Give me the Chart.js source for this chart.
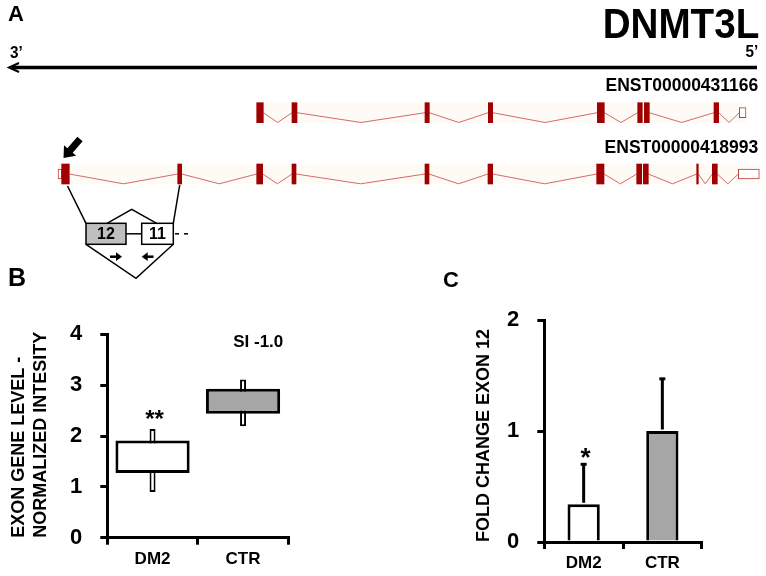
<!DOCTYPE html>
<html>
<head>
<meta charset="utf-8">
<script src="https://cdn.jsdelivr.net/npm/chart.js@4.4.1/dist/chart.umd.min.js"></script>
<style>
body{margin:0;background:#fff}
#fig{position:relative;width:766px;height:576px;overflow:hidden;background:#fff;font-family:'Liberation Sans',Arial,sans-serif;font-weight:bold;color:#000}
#fig canvas{position:absolute}
.lbl{position:absolute;line-height:1;white-space:nowrap}
</style>
</head>
<body>
<div id="fig">
<canvas id="geneChart" width="766" height="290" style="left:0;top:0"></canvas>
<canvas id="arrayChart" width="310" height="286" style="left:0;top:290px"></canvas>
<canvas id="qpcrChart" width="366" height="306" style="left:400px;top:270px"></canvas>
<div class="lbl" style="left:8px;top:3px;font-size:22px">A</div>
<div class="lbl" style="right:7px;top:3px;font-size:42px;transform:scaleX(0.92);transform-origin:right center">DNMT3L</div>
<div class="lbl" style="left:10px;top:44px;font-size:17px;transform:scaleX(0.9);transform-origin:left center">3’</div>
<div class="lbl" style="right:8px;top:43px;font-size:17px;transform:scaleX(0.9);transform-origin:right center">5’</div>
<div class="lbl" style="left:8px;top:265px;font-size:25px">B</div>
<div class="lbl" style="left:443px;top:269px;font-size:22px">C</div>
</div>
<script>
// transcripts of the locus, 3' end on the left (positions in locus units)
const transcriptIds = ['ENST00000431166', 'ENST00000418993'];
const transcriptRow = [1, 2];
const codingExons = [
  [[256.7,263.3],[292,297],[425,429.3],[488.3,492.7],[597.3,604.3],[637.7,642.3],[644.3,649.3],[714,718.7]],
  [[61.7,69.3],[177.7,181.7],[256.7,262.7],[292,296],[425,429],[488,492.7],[596.7,604],[636.7,641.7],[643.3,648.3],[696.7,698.3],[712.3,717.3]]
];
const utrExons = [
  [[739.3,746]],
  [[58,61.7],[738.3,759.3]]
];

// panel B: exon array level
const arrayGroups = ['DM2', 'CTR'];
const boxLow = [1.27, 2.44];
const boxHigh = [1.91, 2.93];
const whiskerLow = [0.90, 2.19];
const whiskerHigh = [2.14, 3.11];
const arrayMarks = ['**', ''];
const spliceIndex = 'SI -1.0';

// panel C: qPCR exon 12
const qpcrGroups = ['DM2', 'CTR'];
const foldMean = [0.34, 1.00];
const foldErr = [0.36, 0.47];
const qpcrMarks = ['*', ''];

const FONT = "'Liberation Sans', Arial, sans-serif";
const groupFill = ['#ffffff', '#a6a6a6'];
Chart.defaults.font.family = FONT;
Chart.defaults.color = '#000';

// ---------- panel A ----------
const rowDip = 0.16;
function blocksOf(i){
  return codingExons[i].concat(utrExons[i]).sort((a, b) => a[0] - b[0]);
}
function intronPoints(i){
  const row = transcriptRow[i], b = blocksOf(i), pts = [];
  for (let k = 1; k < b.length; k++) {
    const s = b[k-1][1], e = b[k][0];
    if (e - s < 3) continue;
    pts.push({x:s, y:row}, {x:(s+e)/2, y:row+rowDip}, {x:e, y:row}, {x:e, y:null});
  }
  return pts;
}
const geneSets = [];
transcriptIds.forEach((id, i) => {
  const row = transcriptRow[i], b = blocksOf(i);
  geneSets.push({type:'bar', indexAxis:'y', data:[{x:[b[0][0], b[b.length-1][1]], y:row}],
    backgroundColor:'#fefaf5', borderWidth:0, grouped:false, maxBarThickness:20,
    categoryPercentage:1, barPercentage:1, order:4});
  geneSets.push({type:'line', indexAxis:'x', data:intronPoints(i), borderColor:'#d46b6b', borderWidth:1,
    pointRadius:0, tension:0, spanGaps:false, order:3});
  geneSets.push({type:'bar', indexAxis:'y', data:utrExons[i].map(u => ({x:u, y:row})),
    backgroundColor:'#fff', borderColor:'#c23b3b', borderWidth:1, borderSkipped:false,
    grouped:false, maxBarThickness:10, categoryPercentage:1, barPercentage:1, order:2});
  geneSets.push({type:'bar', indexAxis:'y', data:codingExons[i].map(c => ({x:c, y:row})),
    backgroundColor:'#a00000', borderWidth:0, grouped:false, maxBarThickness:20,
    categoryPercentage:1, barPercentage:1, order:1});
});

function line(ctx, pts){
  ctx.beginPath();
  ctx.moveTo(pts[0][0], pts[0][1]);
  for (let i = 1; i < pts.length; i++) ctx.lineTo(pts[i][0], pts[i][1]);
  ctx.stroke();
}
function poly(ctx, pts){
  ctx.beginPath();
  ctx.moveTo(pts[0][0], pts[0][1]);
  for (let i = 1; i < pts.length; i++) ctx.lineTo(pts[i][0], pts[i][1]);
  ctx.closePath();
  ctx.fill();
}

const geneNotes = {
  id:'geneNotes',
  afterDatasetsDraw(chart){
    const {ctx, scales:{x, y}} = chart;
    ctx.save();
    // transcript names
    ctx.fillStyle = '#000';
    ctx.font = 'bold 17.5px ' + FONT;
    ctx.textAlign = 'right';
    ctx.textBaseline = 'alphabetic';
    transcriptIds.forEach((id, i) => ctx.fillText(id, 758.3, y.getPixelForValue(transcriptRow[i]) - 21.5));

    // strand arrow 5' -> 3'
    ctx.strokeStyle = '#000';
    ctx.lineWidth = 3.5;
    line(ctx, [[12,67.5],[757,67.5]]);
    ctx.lineWidth = 2;
    line(ctx, [[19,63],[9,67.5],[19,72]]);

    // arrow on exon 12
    const tip = [63.5,158], tail = [80,139];
    const dx = tip[0]-tail[0], dy = tip[1]-tail[1], len = Math.hypot(dx, dy);
    const d = [dx/len, dy/len], n = [-d[1], d[0]];
    const h = [tip[0]-d[0]*10, tip[1]-d[1]*10];
    poly(ctx, [tip, [h[0]+n[0]*8, h[1]+n[1]*8], [h[0]+n[0]*3.5, h[1]+n[1]*3.5],
      [tail[0]+n[0]*3.5, tail[1]+n[1]*3.5], [tail[0]-n[0]*3.5, tail[1]-n[1]*3.5],
      [h[0]-n[0]*3.5, h[1]-n[1]*3.5], [h[0]-n[0]*8, h[1]-n[1]*8]]);

    // inset: exons 12 and 11 with primers
    const rowPx = y.getPixelForValue(transcriptRow[1]);
    const e12 = codingExons[1][0], e11 = codingExons[1][1];
    const x12 = x.getPixelForValue((e12[0]+e12[1])/2), x11 = x.getPixelForValue((e11[0]+e11[1])/2);
    ctx.lineWidth = 1.5;
    line(ctx, [[x12+2, rowPx+12], [86,223.3]]);
    line(ctx, [[x11, rowPx+11], [173.3,223.3]]);
    line(ctx, [[107,223.3],[131.7,209.3],[156.7,223.3]]);
    line(ctx, [[86,244.3],[136,278.3],[173.3,244.3]]);
    line(ctx, [[126,233.8],[141.7,233.8]]);
    line(ctx, [[175,233.8],[179,233.8]]);
    line(ctx, [[184,233.8],[188,233.8]]);
    ctx.fillStyle = '#bfbfbf';
    ctx.fillRect(86,223.3,40,21);
    ctx.strokeRect(86,223.3,40,21);
    ctx.fillStyle = '#fff';
    ctx.fillRect(141.7,223.3,31.6,21);
    ctx.strokeRect(141.7,223.3,31.6,21);
    ctx.fillStyle = '#000';
    ctx.font = 'bold 16px ' + FONT;
    ctx.textAlign = 'center';
    ctx.textBaseline = 'middle';
    ctx.fillText('12', 106, 234.5);
    ctx.fillText('11', 157.5, 234.5);
    // primers
    ctx.lineWidth = 2.5;
    line(ctx, [[110,256.7],[117,256.7]]);
    line(ctx, [[147,256.7],[153.5,256.7]]);
    poly(ctx, [[116,252.3],[122,256.7],[116,261.1]]);
    poly(ctx, [[147.7,252.3],[141.7,256.7],[147.7,261.1]]);
    ctx.restore();
  }
};

new Chart(document.getElementById('geneChart'), {
  type:'bar',
  data:{datasets:geneSets},
  options:{
    responsive:false, animation:false, events:[],
    layout:{padding:0},
    plugins:{legend:{display:false}, tooltip:{enabled:false}},
    scales:{
      x:{type:'linear', min:0, max:766, offset:false, grace:0, display:false, grid:{offset:false}},
      y:{type:'linear', min:-0.838, max:3.892, reverse:true, offset:false, grace:0, beginAtZero:false,
        display:false, grid:{offset:false}, ticks:{stepSize:1}}
    }
  },
  plugins:[geneNotes]
});

// ---------- shared axes for B and C ----------
function xAxis(height){
  return {
    offset:true,
    grid:{display:true, drawOnChartArea:false, drawTicks:true, tickLength:7, color:'#000', lineWidth:3, offset:true},
    border:{display:true, color:'#000', width:3},
    ticks:{font:{size:17, weight:'bold'}, padding:4},
    afterFit(s){ s.height = height; }
  };
}
function yAxis(width, max, title, titlePad){
  return {
    min:0, max:max,
    grid:{display:true, drawOnChartArea:false, drawTicks:true, tickLength:7, color:'#000', lineWidth:3},
    border:{display:true, color:'#000', width:3},
    ticks:{stepSize:1, font:{size:22, weight:'bold'}, padding:18},
    title:{display:true, text:title, align:'start', font:{size:18, weight:'bold', lineHeight:1.2}, padding:{top:titlePad, bottom:0}},
    afterFit(s){ s.width = width; }
  };
}

// ---------- panel B ----------
const arrayNotes = {
  id:'arrayNotes',
  afterDatasetsDraw(chart){
    const {ctx, chartArea, scales:{y}} = chart;
    const meta = chart.getDatasetMeta(0);
    ctx.save();
    ctx.fillStyle = '#000';
    ctx.textBaseline = 'alphabetic';
    ctx.textAlign = 'center';
    ctx.font = 'bold 24px ' + FONT;
    meta.data.forEach((bar, i) => {
      if (arrayMarks[i]) ctx.fillText(arrayMarks[i], bar.x + 2, y.getPixelForValue(whiskerHigh[i]) - 2);
    });
    ctx.textAlign = 'right';
    ctx.font = 'bold 17px ' + FONT;
    ctx.fillText(spliceIndex, chartArea.right - 5, chartArea.top + 12.7);
    ctx.restore();
  }
};

new Chart(document.getElementById('arrayChart'), {
  type:'bar',
  data:{
    labels:arrayGroups,
    datasets:[
      {data:arrayGroups.map((g, i) => [boxLow[i], boxHigh[i]]), backgroundColor:groupFill, borderColor:'#000',
        borderWidth:3, borderSkipped:false, grouped:false, categoryPercentage:1, barPercentage:0.82, order:1},
      {data:arrayGroups.map((g, i) => [whiskerLow[i], whiskerHigh[i]]), backgroundColor:'#fff', borderColor:'#000',
        borderWidth:2, borderSkipped:false, grouped:false, maxBarThickness:6, order:2}
    ]
  },
  options:{
    responsive:false, animation:false, events:[],
    layout:{padding:{top:44.3, right:21.7, left:0, bottom:0}},
    plugins:{legend:{display:false}, tooltip:{enabled:false}},
    scales:{
      x:xAxis(38.3),
      y:yAxis(107.3, 4, ['EXON GENE LEVEL -', 'NORMALIZED INTESITY'], 8.4)
    }
  },
  plugins:[arrayNotes]
});

// ---------- panel C ----------
const errorBars = {
  id:'errorBars',
  afterDatasetsDraw(chart){
    const {ctx, scales:{y}} = chart;
    const meta = chart.getDatasetMeta(0);
    ctx.save();
    ctx.strokeStyle = '#000';
    ctx.fillStyle = '#000';
    ctx.lineWidth = 3;
    meta.data.forEach((bar, i) => {
      const top = y.getPixelForValue(foldMean[i] + foldErr[i]);
      line(ctx, [[bar.x, bar.y - 1.5], [bar.x, top]]);
      line(ctx, [[bar.x - 3, top], [bar.x + 3, top]]);
      if (qpcrMarks[i]) {
        ctx.font = 'bold 26px ' + FONT;
        ctx.textAlign = 'center';
        ctx.textBaseline = 'alphabetic';
        ctx.fillText(qpcrMarks[i], bar.x + 2, top + 2);
      }
    });
    ctx.restore();
  }
};

new Chart(document.getElementById('qpcrChart'), {
  type:'bar',
  data:{
    labels:qpcrGroups,
    datasets:[{data:foldMean, backgroundColor:groupFill, borderColor:'#000', borderWidth:3,
      categoryPercentage:1, barPercentage:0.41}]
  },
  options:{
    responsive:false, animation:false, events:[],
    layout:{padding:{top:50, right:64.3, left:0, bottom:0}},
    plugins:{legend:{display:false}, tooltip:{enabled:false}},
    scales:{
      x:xAxis(34),
      y:yAxis(144.3, 2, 'FOLD CHANGE EXON 12', 73.2)
    }
  },
  plugins:[errorBars]
});
</script>
</body>
</html>
